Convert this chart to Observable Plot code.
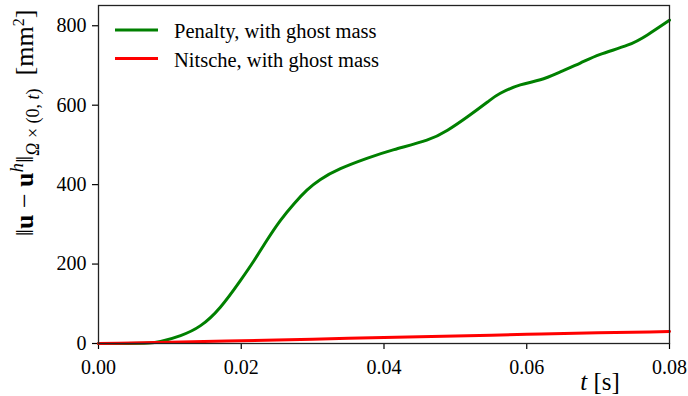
<!DOCTYPE html>
<html>
<head>
<meta charset="utf-8">
<script src="https://cdn.jsdelivr.net/npm/d3@7"></script>
<script src="https://cdn.jsdelivr.net/npm/@observablehq/plot@0.6"></script>
<style>
  html, body { margin: 0; padding: 0; background: #fff; }
  #chart svg { display: block; }
</style>
</head>
<body>
<div id="chart"></div>
<script>
// Data
const tPenalty = [0, 0.004, 0.007, 0.0087, 0.0115, 0.0143, 0.0171, 0.0199, 0.0218, 0.0236, 0.0255, 0.0274, 0.0292, 0.0311, 0.0339, 0.0376, 0.0414, 0.046, 0.0489, 0.0517, 0.0545, 0.0563, 0.0591, 0.0619, 0.0647, 0.0675, 0.0703, 0.0741, 0.0769, 0.08];
const vPenalty = [0, 0, 1, 5, 20, 45, 92, 159, 209, 260, 310, 352, 386, 413, 440, 466, 488, 512, 537, 571, 608, 630, 651, 664, 684, 706, 728, 751, 777, 814];
const tNitsche = [0, 0.01, 0.02, 0.03, 0.04, 0.05, 0.06, 0.07, 0.08];
const vNitsche = [0, 3, 7, 11, 15, 19, 23, 27, 30];
const xTicks = [0, 0.02, 0.04, 0.06, 0.08];
const yTicks = [0, 200, 400, 600, 800];
const seriesNames = ["Penalty, with ghost mass", "Nitsche, with ghost mass"];
const seriesColors = ["#008000", "#ff0000"];

const penalty = tPenalty.map((t, i) => ({t, v: vPenalty[i]}));
const nitsche = tNitsche.map((t, i) => ({t, v: vNitsche[i]}));

const W = 688, H = 396;
const font = "Liberation Serif, DejaVu Serif, serif";
const chart = Plot.plot({
  width: W, height: H,
  marginLeft: 98, marginRight: 19, marginTop: 5, marginBottom: 53,
  style: {fontFamily: font, fontSize: "20px", color: "#000", background: "#fff"},
  x: {domain: [0, 0.08], label: null},
  y: {domain: [0, 851], label: null},
  marks: [
    Plot.axisX({ticks: xTicks, tickFormat: d3.format(".2f"), tickSize: 6, tickPadding: 10, label: null, strokeWidth: 1.2}),
    Plot.axisY({ticks: yTicks, tickFormat: d3.format("d"), tickSize: 6, tickPadding: 6, label: null, strokeWidth: 1.2}),
    Plot.line(penalty, {x: "t", y: "v", stroke: seriesColors[0], strokeWidth: 3, curve: "natural"}),
    Plot.line(nitsche, {x: "t", y: "v", stroke: seriesColors[1], strokeWidth: 3, curve: "monotone-x"}),
    Plot.frame({stroke: "#222", strokeWidth: 1.3})
  ]
});
document.getElementById("chart").appendChild(chart);

const svg = d3.select(chart);

// Legend
const lg = svg.append("g").attr("font-family", font).attr("font-size", 20.5).attr("text-anchor", "start");
seriesNames.forEach((name, i) => {
  const y = 30 + i * 28.4;
  lg.append("line").attr("x1", 115).attr("x2", 158).attr("y1", y).attr("y2", y)
    .attr("stroke", seriesColors[i]).attr("stroke-width", 3);
  lg.append("text").attr("x", 174).attr("y", y).attr("dy", "0.4em").attr("text-anchor", "start").text(name);
});

// Y axis label
const yl = svg.append("text")
  .attr("transform", "translate(33,123) rotate(-90)")
  .attr("text-anchor", "middle")
  .attr("font-family", font)
  .attr("font-size", 26);
yl.append("tspan").text("‖");
yl.append("tspan").attr("font-weight", "bold").text("u");
yl.append("tspan").text(" − ");
yl.append("tspan").attr("font-weight", "bold").text("u");
yl.append("tspan").attr("font-style", "italic").attr("font-size", 19).attr("dy", -10).text("h");
yl.append("tspan").attr("dy", 10).text("‖");
yl.append("tspan").attr("font-size", 18).attr("dy", 6).attr("font-style", "italic").text("Ω");
yl.append("tspan").attr("font-size", 18).text(" × (0, ");
yl.append("tspan").attr("font-size", 18).attr("font-style", "italic").text("t");
yl.append("tspan").attr("font-size", 18).text(")");
yl.append("tspan").attr("dy", -6).text("  [mm");
yl.append("tspan").attr("font-size", 16).attr("dy", -9).text("2");
yl.append("tspan").attr("dy", 9).text("]");

// X axis label
const xl = svg.append("text")
  .attr("x", 600).attr("y", 390)
  .attr("text-anchor", "middle")
  .attr("font-family", font)
  .attr("font-size", 25);
xl.append("tspan").attr("font-style", "italic").text("t");
xl.append("tspan").text(" [s]");
</script>
</body>
</html>
